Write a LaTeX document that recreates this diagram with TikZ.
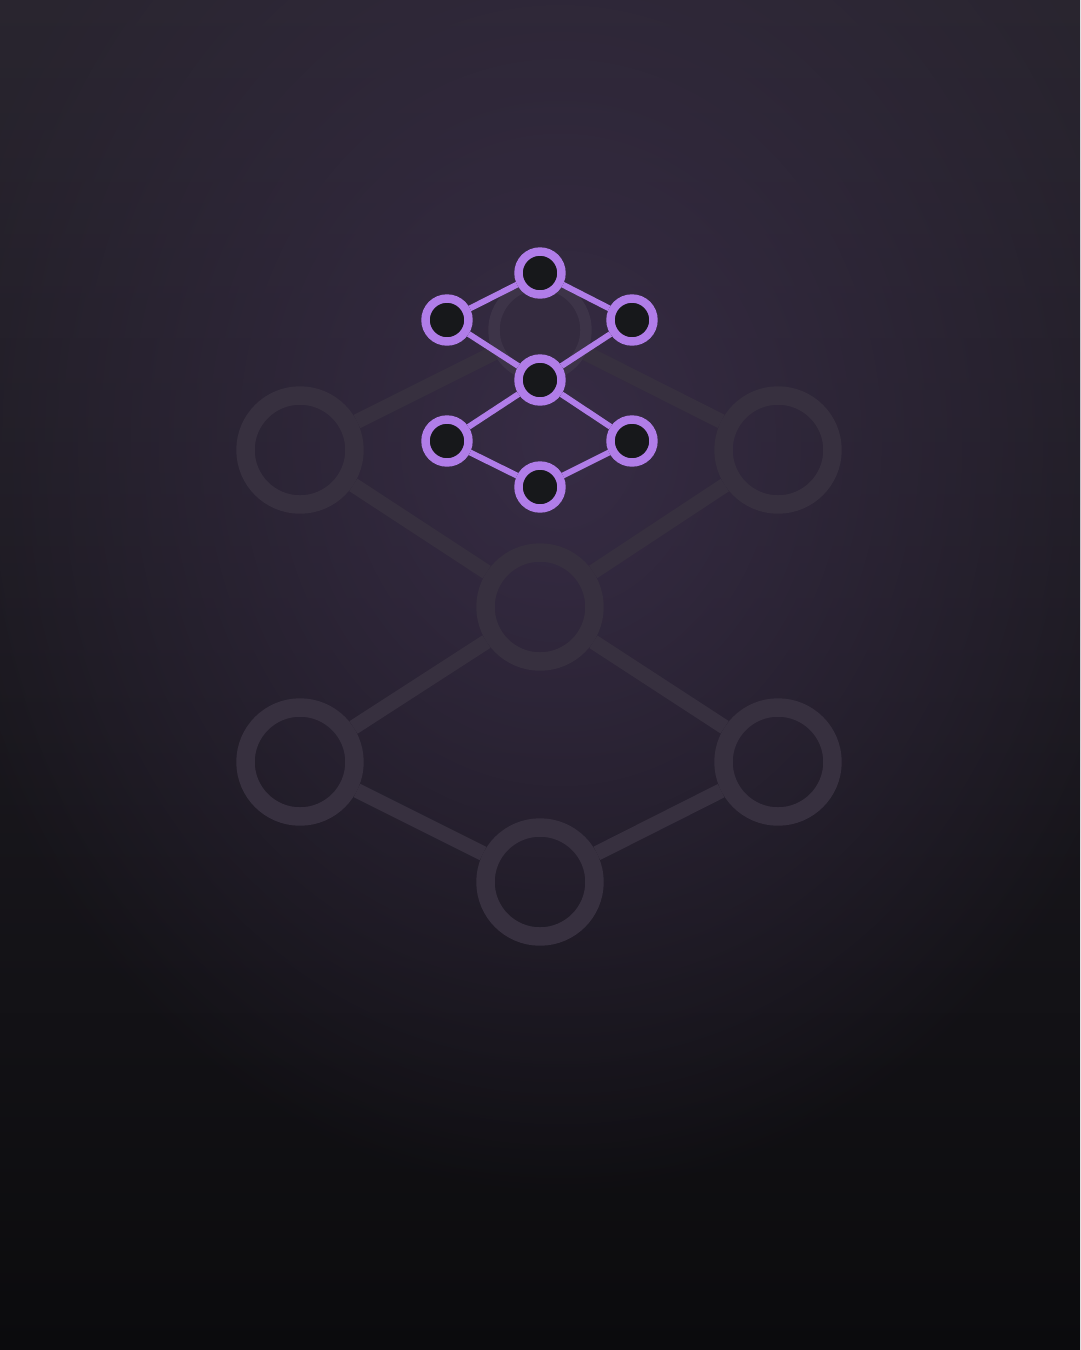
\documentclass[tikz,border=0pt]{standalone}
\usepackage{tikz}
\usetikzlibrary{fadings}
\definecolor{bgtop}{HTML}{29252F}
\definecolor{bgmid}{HTML}{231F2B}
\definecolor{bgbot}{HTML}{0B0B0D}
\definecolor{glow}{HTML}{372C45}
\definecolor{ringgrey}{HTML}{37303F}
\definecolor{topring}{HTML}{3D3448}
\definecolor{topfill}{HTML}{342B3F}
\definecolor{lilac}{HTML}{B07DE8}
\definecolor{coal}{HTML}{17181B}
\tikzfading[name=glowfade, inner color=transparent!0, outer color=transparent!100]
\tikzstyle{bignode} = [circle, minimum size=2.18cm, inner sep=0pt, line width=10.5pt, draw=ringgrey]
\tikzstyle{topnode} = [circle, minimum size=1.84cm, inner sep=0pt, line width=6.5pt, draw=topring, fill=topfill]
\tikzstyle{bigedge} = [line width=8.5pt, draw=ringgrey]
\tikzstyle{smallnode} = [circle, minimum size=0.86cm, inner sep=0pt, line width=4.8pt, draw=lilac, fill=coal]
\tikzstyle{smalledge} = [line width=3.4pt, draw=lilac]

\begin{document}
\begin{tikzpicture}[x=0.02cm, y=-0.02cm]
% background
\useasboundingbox (0,0) rectangle (1080,1350);
\fill[top color=bgtop, middle color=bgmid, bottom color=bgbot] (0,0) rectangle (1080,1350);
\fill[glow, path fading=glowfade] (560,440) ellipse (640 and 760);

% large faint graph
\node (gt) [topnode] at (540,330) {};
\node (gl1) [bignode] at (300,450) {};
\node (gr1) [bignode] at (778,450) {};
\node (gc) [bignode] at (540,607) {};
\node (gl2) [bignode] at (300,762) {};
\node (gr2) [bignode] at (778,762) {};
\node (gb) [bignode] at (540,882) {};

\draw [bigedge] (gt) -- (gl1);
\draw [bigedge] (gt) -- (gr1);
\draw [bigedge] (gl1) -- (gc);
\draw [bigedge] (gr1) -- (gc);
\draw [bigedge] (gc) -- (gl2);
\draw [bigedge] (gc) -- (gr2);
\draw [bigedge] (gl2) -- (gb);
\draw [bigedge] (gr2) -- (gb);

% small graph
\node (t) [smallnode] at (540,273) {};
\node (l1) [smallnode] at (447,320) {};
\node (r1) [smallnode] at (632,320) {};
\node (c) [smallnode] at (540,380) {};
\node (l2) [smallnode] at (447,441) {};
\node (r2) [smallnode] at (632,441) {};
\node (b) [smallnode] at (540,487) {};

\draw [smalledge] (t) -- (l1);
\draw [smalledge] (t) -- (r1);
\draw [smalledge] (l1) -- (c);
\draw [smalledge] (r1) -- (c);
\draw [smalledge] (c) -- (l2);
\draw [smalledge] (c) -- (r2);
\draw [smalledge] (l2) -- (b);
\draw [smalledge] (r2) -- (b);
\end{tikzpicture}
\end{document}
